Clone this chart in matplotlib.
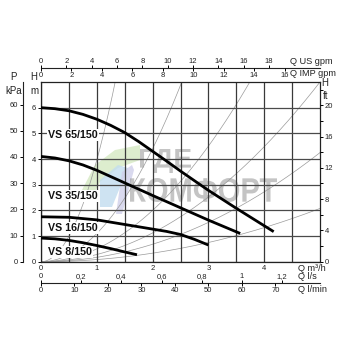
import numpy as np
import matplotlib.pyplot as plt
import matplotlib.transforms as mtransforms
from matplotlib.textpath import TextPath
from matplotlib.patches import PathPatch, Polygon
from matplotlib.font_manager import FontProperties

plt.rcParams['font.family'] = ['Liberation Sans', 'DejaVu Sans']

# pump curves: Q in m3/h, H in m
q_vs65 = [0, 0.25, 0.5, 0.75, 1.0, 1.25, 1.5, 1.75, 2.0, 2.25, 2.5, 3.0, 3.5, 4.17]
h_vs65 = [6.0, 5.96, 5.88, 5.74, 5.55, 5.31, 5.03, 4.68, 4.3, 3.92, 3.53, 2.78, 2.08, 1.17]
q_vs35 = [0, 0.25, 0.5, 0.75, 1.0, 1.5, 2.0, 2.5, 3.0, 3.57]
h_vs35 = [4.1, 4.04, 3.93, 3.77, 3.56, 3.07, 2.58, 2.1, 1.62, 1.1]
q_vs16 = [0, 0.5, 1.0, 1.5, 2.0, 2.25, 2.5, 2.75, 3.0]
h_vs16 = [1.75, 1.73, 1.63, 1.45, 1.27, 1.18, 1.06, 0.87, 0.65]
q_vs8 = [0, 0.25, 0.5, 0.75, 1.0, 1.25, 1.5, 1.72]
h_vs8 = [0.92, 0.89, 0.83, 0.74, 0.63, 0.51, 0.38, 0.27]

pump_names = ['VS 65/150', 'VS 35/150', 'VS 16/150', 'VS 8/150']
name_h = [4.94, 2.56, 1.31, 0.39]

sys_k = [3.96, 1.1, 0.5, 0.28, 0.17, 0.083]

# unit conversions (per m3/h and per m)
M3H_USGPM = 0.22712
M3H_IMPGPM = 0.27277
M3H_LS = 3.6
M3H_LMIN = 0.06
KPA_M = 9.80665
FT_M = 1 / 0.3048

QMAX, HMAX = 5, 7
W = 350.0
GRID = '#3a3a3a'
TXT = '#222222'


def fx(px):
    return px / W


def fy(py):
    return 1 - py / W


fig = plt.figure(figsize=(3.5, 3.5), dpi=100)


# watermark behind everything
def watermark(txt, x0, x1, y0, y1):
    fp = FontProperties(family='Liberation Sans', weight='bold')
    tp = TextPath((0, 0), txt, size=1, prop=fp)
    bb = tp.get_extents()
    tr = (mtransforms.Affine2D().translate(-bb.x0, -bb.y0)
          .scale((fx(x1) - fx(x0)) / bb.width, (fy(y0) - fy(y1)) / bb.height)
          .translate(fx(x0), fy(y1)))
    p = PathPatch(tr.transform_path(tp), transform=fig.transFigure,
                  fc='#8a8a8a', ec='none', alpha=0.5, zorder=0)
    fig.add_artist(p)


ax = fig.add_axes([fx(41), fy(261.7), fx(279), 179.7 / W])
ax.set_xlim(0, QMAX)
ax.set_ylim(0, HMAX)
ax.set_facecolor('none')

# logo shapes (faint)
for pts, c in [([(82, 190), (95, 165), (115, 150), (140, 145), (140, 160), (118, 168), (100, 182), (92, 197)], '#d5e9c2'),
               ([(100, 180), (118, 165), (128, 168), (112, 207), (100, 207)], '#c2ddef'),
               ([(122, 172), (132, 165), (134, 170), (122, 214), (116, 214)], '#d0d0ea')]:
    poly = Polygon([(fx(a), fy(b)) for a, b in pts], closed=True,
                   transform=fig.transFigure, fc=c, ec='none', alpha=0.8, zorder=0)
    fig.add_artist(poly)
watermark('ГДЕ', 140, 191, 149, 173)
watermark('КОМФОРТ', 130, 277, 178, 202)

ax.set_xticks(range(0, 5))
ax.set_xticks(np.arange(0.5, 5, 0.5), minor=True)
ax.set_yticks(range(0, 7))
ax.grid(which='both', axis='x', color=GRID, lw=0.9, zorder=1)
ax.grid(which='major', axis='y', color='#4a4a4a', lw=0.9, zorder=1)
ax.tick_params(axis='x', which='both', length=0, labelsize=5.5, pad=2.5, labelcolor=TXT)
ax.tick_params(axis='y', length=2.5, width=0.7, labelsize=5.5, pad=1, labelcolor=TXT)
for s in ax.spines.values():
    s.set_color('#222222')
    s.set_linewidth(0.9)

qq = np.linspace(0, QMAX, 200)
for k in sys_k:
    ax.plot(qq, k * qq ** 2, color='#9a9a9a', lw=0.5, zorder=1.5)

for q, h in [(q_vs65, h_vs65), (q_vs35, h_vs35), (q_vs16, h_vs16), (q_vs8, h_vs8)]:
    ax.plot(q, h, color='black', lw=2.0, solid_capstyle='butt', solid_joinstyle='round', zorder=3)

for name, h in zip(pump_names, name_h):
    ax.text(0.13, h, name, fontsize=7.7, fontweight='bold', va='center', ha='left',
            color='#111111', zorder=4,
            bbox=dict(fc='white', ec='none', pad=0.6))

# kPa scale on the far left
axp = ax.twinx()
axp.set_ylim(0, HMAX * KPA_M)
axp.yaxis.tick_left()
axp.spines['left'].set_position(('outward', 13.2))
for s in ['right', 'top', 'bottom']:
    axp.spines[s].set_visible(False)
axp.spines['left'].set_color('#222222')
axp.spines['left'].set_linewidth(0.8)
axp.set_yticks(range(0, 61, 10))
axp.tick_params(axis='y', length=2.5, width=0.7, labelsize=5.5, pad=1, labelcolor=TXT)

# ft scale on the right
axf = ax.twinx()
axf.set_ylim(0, HMAX * FT_M)
for s in ['left', 'top', 'bottom', 'right']:
    axf.spines[s].set_visible(False)
axf.set_yticks(range(0, 21, 4))
axf.set_yticks(range(2, 23, 4), minor=True)
axf.tick_params(axis='y', which='both', length=2.5, width=0.7, labelsize=5.5, pad=1, labelcolor=TXT)


# top and bottom flow scales
def flat_axes(ypix):
    a = fig.add_axes([fx(41), fy(ypix), fx(279), 1e-4])
    a.set_facecolor('none')
    a.set_yticks([])
    for s in a.spines.values():
        s.set_visible(False)
    return a


def comma(v):
    return ('%g' % v).replace('.', ',')


axus = flat_axes(68.3)
axus.set_xlim(0, QMAX / M3H_USGPM)
axus.spines['top'].set_visible(True)
axus.spines['top'].set_color('#222222')
axus.spines['top'].set_linewidth(0.8)
axus.xaxis.tick_top()
axus.set_xticks(range(0, 19, 2))
axus.tick_params(axis='x', length=2, width=0.7, labelsize=5.5, pad=0.5, labelcolor=TXT)

aximp = flat_axes(68.3)
aximp.set_xlim(0, QMAX / M3H_IMPGPM)
aximp.set_xticks(range(0, 17, 2))
aximp.tick_params(axis='x', length=2, width=0.7, labelsize=5.5, pad=0.5, labelcolor=TXT)

axls = flat_axes(283.3)
axls.set_xlim(0, QMAX / M3H_LS)
axls.spines['top'].set_visible(True)
axls.spines['top'].set_color('#222222')
axls.spines['top'].set_linewidth(0.8)
axls.xaxis.tick_top()
ls_ticks = [0, 0.2, 0.4, 0.6, 0.8, 1.0, 1.2]
axls.set_xticks(ls_ticks)
axls.set_xticklabels([comma(v) for v in ls_ticks])
axls.tick_params(axis='x', length=2, width=0.7, labelsize=5.5, pad=0.5, labelcolor=TXT)

axlm = flat_axes(283.3)
axlm.set_xlim(0, QMAX / M3H_LMIN)
axlm.set_xticks(range(0, 71, 10))
axlm.tick_params(axis='x', length=2, width=0.7, labelsize=5.5, pad=0.5, labelcolor=TXT)

# axis titles
fs = 6.6
fig.text(fx(290), fy(61), 'Q US gpm', fontsize=fs, va='center', ha='left', color=TXT)
fig.text(fx(290), fy(73.5), 'Q IMP gpm', fontsize=fs, va='center', ha='left', color=TXT)
fig.text(fx(297.5), fy(268.3), 'Q m³/h', fontsize=fs, va='center', ha='left', color=TXT)
fig.text(fx(297.5), fy(276.5), 'Q l/s', fontsize=fs, va='center', ha='left', color=TXT)
fig.text(fx(297.5), fy(289.3), 'Q l/min', fontsize=fs, va='center', ha='left', color=TXT)
fig.text(fx(13), fy(77.5), 'P', fontsize=7, va='center', ha='center', color=TXT)
fig.text(fx(13.5), fy(90.5), 'kPa', fontsize=7, va='center', ha='center', color=TXT)
fig.text(fx(34), fy(77.5), 'H', fontsize=7, va='center', ha='center', color=TXT)
fig.text(fx(34), fy(91), 'm', fontsize=7, va='center', ha='center', color=TXT)
fig.text(fx(325), fy(83), 'H', fontsize=7, va='center', ha='center', color=TXT)
fig.text(fx(326), fy(96), 'ft', fontsize=7, va='center', ha='center', color=TXT)

fig.savefig('out.png', dpi=100, facecolor='white')
